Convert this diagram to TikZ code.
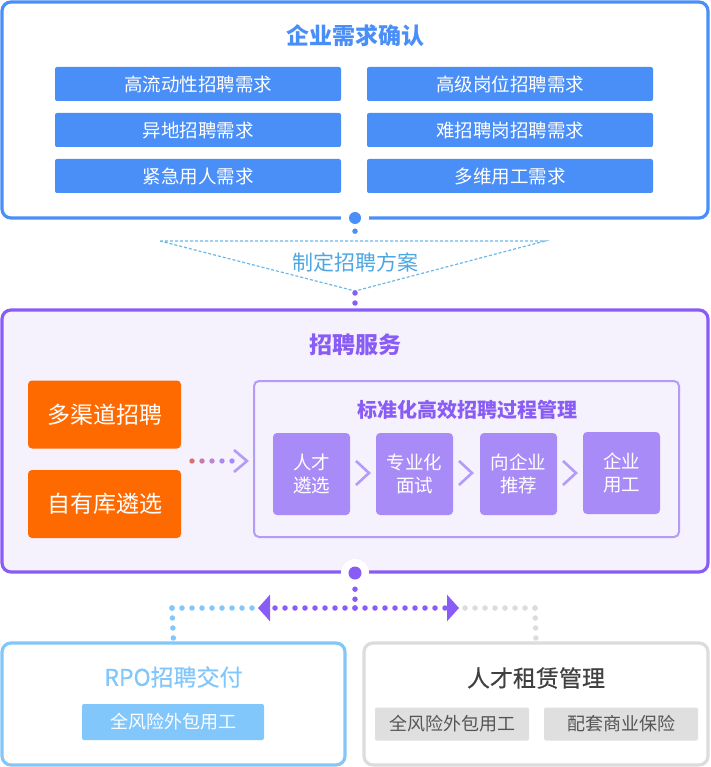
\documentclass[tikz,border=0pt]{standalone}
\usepackage{fontspec}
\setmainfont{Noto Sans CJK SC}
\newfontfamily\medfont[FakeBold=0.6]{Noto Sans CJK SC}
\usetikzlibrary{arrows.meta}

\definecolor{reqblue}{HTML}{4A8EF7}
\definecolor{planblue}{HTML}{4DA6E2}
\definecolor{plandash}{HTML}{6BB6EA}
\definecolor{svcpurple}{HTML}{8A5CF6}
\definecolor{svcfill}{HTML}{F5F1FD}
\definecolor{procline}{HTML}{B49BF8}
\definecolor{stepfill}{HTML}{A98BF8}
\definecolor{chanorange}{HTML}{FF6A00}
\definecolor{rpoblue}{HTML}{82C7FC}
\definecolor{leasegray}{HTML}{DCDCDC}
\definecolor{leasebtn}{HTML}{DFDFDF}
\definecolor{leasetext}{HTML}{555555}
\definecolor{leasetitle}{HTML}{404040}
\definecolor{dotc1}{HTML}{D9706E}
\definecolor{dotc2}{HTML}{C97BA6}
\definecolor{dotc3}{HTML}{BA85D2}
\definecolor{dotc4}{HTML}{AB8AF0}
\definecolor{dotc5}{HTML}{A48CF8}

\begin{document}
\begin{tikzpicture}[x=1pt, y=-1pt,
    every node/.style={inner sep=0pt},
    panel/.style={draw, line width=3.2pt, rounded corners=9pt},
    reqbtn/.style={fill=reqblue, rounded corners=2pt, minimum width=286pt, minimum height=34pt, text=white, font=\fontsize{18.5}{22}\selectfont},
    chanbox/.style={fill=chanorange, rounded corners=4pt, minimum width=153pt, minimum height=68pt, text=white, font=\fontsize{23}{26}\selectfont},
    stepbox/.style={fill=stepfill, rounded corners=4pt, minimum width=77pt, minimum height=82pt, text=white, align=center, font=\fontsize{18.5}{23}\selectfont},
    dotnode/.style={circle, minimum size=12pt},
    dotline/.style={line width=5.5pt, line cap=round, dash pattern=on 0pt off 10pt},
    chev/.style={line width=2.6pt},
    bigtip/.style={-{Triangle[length=12pt, width=26pt]}}]

    \useasboundingbox (0,0) rectangle (710,767);

    % enterprise needs
    \node[panel, draw=reqblue, minimum width=706pt, minimum height=216pt] (need) at (355,110) {};
    \node[text=reqblue, font=\fontsize{23}{26}\selectfont\bfseries] (needtitle) at (355,36) {企业需求确认};
    \node[reqbtn] (n1) at (198,84) {高流动性招聘需求};
    \node[reqbtn] (n2) at (198,130) {异地招聘需求};
    \node[reqbtn] (n3) at (198,176) {紧急用人需求};
    \node[reqbtn] (n4) at (510,84) {高级岗位招聘需求};
    \node[reqbtn] (n5) at (510,130) {难招聘岗招聘需求};
    \node[reqbtn] (n6) at (510,176) {多维用工需求};
    \fill[white] (355,218) circle (14pt);
    \node[dotnode, fill=reqblue] (needdot) at (355,218) {};

    % plan
    \coordinate (plantop) at (355,241);
    \coordinate (planapex) at (355,291);
    \draw[plandash, line width=1.2pt, dash pattern=on 3pt off 2pt] (160,241) -- (545,241) -- (planapex) -- cycle;
    \node[text=planblue, font=\fontsize{21}{24}\selectfont] (plan) at (355,262) {制定招聘方案};
    \draw[dotline, reqblue, shorten <=7pt] (needdot) -- (plantop);

    % recruiting service
    \node[panel, draw=svcpurple, fill=svcfill, minimum width=706pt, minimum height=262pt] (service) at (355,441) {};
    \draw[dotline, svcpurple, shorten <=2pt] (planapex) -- (service.north);
    \node[text=svcpurple, font=\fontsize{23}{26}\selectfont\bfseries] (svctitle) at (355,345) {招聘服务};
    \node[chanbox] (multi) at (104.5,414.5) {多渠道招聘};
    \node[chanbox] (ownpool) at (104.5,504) {自有库遴选};

    \fill[dotc1] (192,461) circle (2.7pt);
    \fill[dotc2] (202,461) circle (2.7pt);
    \fill[dotc3] (212,461) circle (2.7pt);
    \fill[dotc4] (222,461) circle (2.7pt);
    \fill[dotc5] (232,461) circle (2.7pt);
    \draw[chev, procline] (234,450) -- (247,461) -- (234,472);

    \node[draw=procline, line width=2pt, rounded corners=5pt, minimum width=425pt, minimum height=156pt] (process) at (466.5,459) {};
    \node[text=svcpurple, font=\fontsize{20}{23}\selectfont\bfseries] (proctitle) at (467,410) {标准化高效招聘过程管理};
    \node[stepbox] (s1) at (311.5,474) {人才\\遴选};
    \node[stepbox] (s2) at (414.5,474) {专业化\\面试};
    \node[stepbox] (s3) at (518.5,474) {向企业\\推荐};
    \node[stepbox] (s4) at (621.5,473) {企业\\用工};
    \draw[chev, procline] (356,461) -- (369,473) -- (356,485);
    \draw[chev, procline] (459,461) -- (472,473) -- (459,485);
    \draw[chev, procline] (563,461) -- (576,473) -- (563,485);

    \fill[white] (355,573) circle (14pt);
    \node[dotnode, fill=svcpurple, minimum size=13pt] (svcdot) at (355,573) {};

    % delivery
    \node[panel, draw=rpoblue, minimum width=343pt, minimum height=122pt] (rpo) at (173.5,704) {};
    \node[text=rpoblue, font=\fontsize{23}{26}\medfont] (rpotitle) at (173.5,677) {RPO招聘交付};
    \node[fill=rpoblue, rounded corners=2pt, minimum width=182pt, minimum height=36pt, text=white, font=\fontsize{18}{22}\selectfont] (rpobtn) at (173,722) {全风险外包用工};

    \node[panel, draw=leasegray, minimum width=344pt, minimum height=122pt] (lease) at (536,704) {};
    \node[text=leasetitle, font=\fontsize{23}{26}\medfont] (leasetitle) at (536,678) {人才租赁管理};
    \node[fill=leasebtn, rounded corners=2pt, minimum width=154pt, minimum height=33pt, text=leasetext, font=\fontsize{18}{22}\selectfont] (leasebtn1) at (452,724) {全风险外包用工};
    \node[fill=leasebtn, rounded corners=2pt, minimum width=154pt, minimum height=33pt, text=leasetext, font=\fontsize{18}{22}\selectfont] (leasebtn2) at (621,724) {配套商业保险};

    \coordinate (split) at (355,608);
    \coordinate (rpojoin) at (172,608);
    \coordinate (leasejoin) at (535,608);
    \draw[dotline, svcpurple, shorten <=9.5pt] (svcdot) -- (split);
    \draw[dotline, svcpurple, bigtip] (split) -- (258,608);
    \draw[dotline, svcpurple, bigtip] (split) -- (459,608);
    \draw[dotline, rpoblue] (rpojoin) -- (253,608);
    \draw[dotline, rpoblue] (rpojoin) -- (rpo.north);
    \draw[dotline, leasegray] (leasejoin) -- (464,608);
    \draw[dotline, leasegray] (leasejoin) -- (lease.north);

\end{tikzpicture}
\end{document}
